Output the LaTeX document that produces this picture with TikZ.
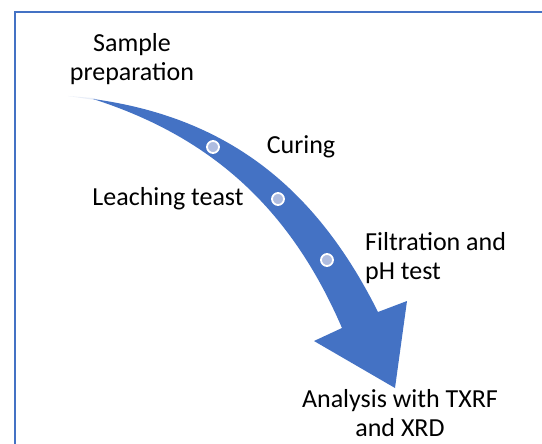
\documentclass[tikz,border=0pt]{standalone}
\usepackage{fontspec}
\setmainfont{Carlito}
\definecolor{arrowblue}{HTML}{4472C4}
\definecolor{dotfill}{HTML}{AEBCE0}
\tikzset{
  lbl/.style={inner sep=0pt, font=\fontsize{26}{29}\selectfont, text=black, align=center},
  lblleft/.style={lbl, align=left, anchor=west},
  stepdot/.style={circle, fill=dotfill, draw=white, line width=1.8pt, minimum size=12pt, inner sep=0pt},
  frameline/.style={draw=arrowblue, line width=1.3pt}
}
\begin{document}
\begin{tikzpicture}[x=1pt,y=-1pt]
\useasboundingbox (0,0) rectangle (542,444);
\fill[white] (0,0) rectangle (542,444);
% frame
\draw[frameline] (15,444) -- (15,12) -- (542,12);
% faint tail
\fill[arrowblue!12] (68,96) -- (95,98.2) -- (95,100) -- cycle;
% curved arrow
\fill[arrowblue] (93,99) .. controls (215,138) and (292,212) .. (342,328)
  -- (314,341) -- (395,388) -- (407,301) -- (378,312)
  .. controls (318,192) and (232,118) .. (93,99) -- cycle;
% dots
\node[stepdot] (d1) at (213,147) {};
\node[stepdot] (d2) at (278,199) {};
\node[stepdot] (d3) at (327,260) {};
% labels
\node[lbl] (s1) at (132,59) {Sample\\preparation};
\node[lbl] (s2) at (301,147) {Curing};
\node[lbl] (s3) at (168,199) {Leaching teast};
\node[lblleft] (s4) at (365,258) {Filtration and\\pH test};
\node[lbl] (s5) at (400,413) {Analysis with TXRF\\and XRD};
\end{tikzpicture}
\end{document}
